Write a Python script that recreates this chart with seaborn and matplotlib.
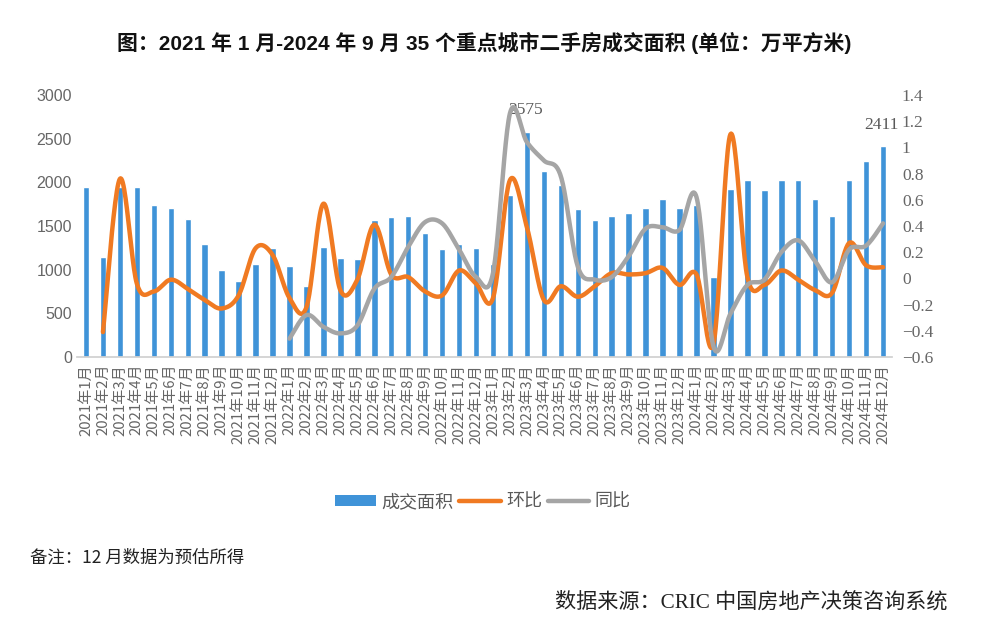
import numpy as np
import pandas as pd
import matplotlib
matplotlib.use("Agg")
import matplotlib.pyplot as plt
import seaborn as sns
from matplotlib.patches import Patch
from matplotlib.lines import Line2D
from matplotlib.ticker import FuncFormatter, FixedLocator

sns.set_theme(style="white")
plt.rcParams['font.family'] = ['Noto Sans CJK SC', 'DejaVu Sans']
plt.rcParams['axes.unicode_minus'] = True

# ---------------- data ----------------
months = [f"{y}年{m}月" for y in (2021, 2022, 2023, 2024) for m in range(1, 13)]

area = [1950, 1150, 1950, 1950, 1740, 1705, 1575, 1295, 1000, 874, 1065, 1245,
        1038, 808, 1260, 1130, 1119, 1563, 1601, 1609, 1421, 1238, 1299, 1245,
        1065, 1858, 2575, 2134, 1973, 1697, 1563, 1609, 1651, 1705, 1812, 1709,
        1736, 912, 1927, 2023, 1916, 2023, 2023, 1812, 1609, 2031, 2241, 2411]

mom = [None, -0.41, 0.76, -0.04, -0.10, -0.01, -0.08, -0.165, -0.23, -0.13, 0.23, 0.18,
       -0.15, -0.22, 0.57, -0.09, -0.01, 0.41, 0.03, 0.01, -0.10, -0.13, 0.06, -0.04,
       -0.15, 0.75, 0.39, -0.165, -0.06, -0.14, -0.06, 0.04, 0.03, 0.04, 0.08, -0.05,
       0.03, -0.50, 1.10, 0.01, -0.05, 0.06, -0.01, -0.09, -0.11, 0.27, 0.10, 0.085]

yoy = [None] * 12 + [-0.46, -0.28, -0.37, -0.42, -0.36, -0.08, 0.01, 0.24, 0.43, 0.42, 0.22, 0.01,
                     0.04, 1.26, 1.04, 0.90, 0.78, 0.09, -0.01, 0.01, 0.17, 0.38, 0.39, 0.37,
                     0.62, -0.52, -0.27, -0.05, -0.01, 0.20, 0.29, 0.13, -0.03, 0.22, 0.25, 0.42]

labeled = {"2023年3月": 2575, "2024年12月": 2411}

left_ticks = [0, 500, 1000, 1500, 2000, 2500, 3000]
right_ticks = [-0.6, -0.4, -0.2, 0, 0.2, 0.4, 0.6, 0.8, 1.0, 1.2, 1.4]

BLUE = "#3f93d8"
ORANGE = "#f07a22"
GRAY = "#a5a5a5"
TICKC = "#666666"


def smooth(vals, n=24):
    """Excel-like smoothed line (Catmull-Rom Bezier) through the given points."""
    pts = [(i, v) for i, v in enumerate(vals) if v is not None]
    P = np.array(pts, dtype=float)
    xs, ys = [], []
    for k in range(len(P) - 1):
        p0 = P[k - 1] if k > 0 else P[k]
        p1 = P[k]
        p2 = P[k + 1]
        p3 = P[k + 2] if k + 2 < len(P) else P[k + 1]
        b1 = p1 + (p2 - p0) / 6.0
        b2 = p2 - (p3 - p1) / 6.0
        t = np.linspace(0, 1, n, endpoint=(k == len(P) - 2))[:, None]
        c = ((1 - t) ** 3) * p1 + 3 * ((1 - t) ** 2) * t * b1 + 3 * (1 - t) * t ** 2 * b2 + t ** 3 * p2
        xs.extend(c[:, 0]); ys.extend(c[:, 1])
    return pd.DataFrame({"x": xs, "y": ys})


df = pd.DataFrame({"month": months, "area": area})

fig = plt.figure(figsize=(9.81, 6.37), dpi=100)
ax = fig.add_axes([0.079, 0.4396, 0.8298, 0.4113])

sns.barplot(data=df, x="month", y="area", color=BLUE, saturation=1, width=0.38, ax=ax)
ax.set_xlim(-0.5, len(months) - 0.5)
ax.set_ylim(0, 3000)
ax.set_yticks(left_ticks)
ax.set_yticklabels([str(t) for t in left_ticks], family=['Liberation Sans'], fontsize=11.5, color=TICKC)
ax.set_xlabel(""); ax.set_ylabel("")
ax.set_xticks(range(len(months)))
ax.set_xticklabels(months, rotation=90, fontsize=10.8, color=TICKC,
                   family=['Noto Sans CJK SC'])
ax.xaxis.set_minor_locator(FixedLocator(np.arange(-0.5, len(months), 1.0)))
ax.tick_params(axis='x', which='major', length=0, pad=5)
ax.tick_params(axis='x', which='minor', length=5, color="#d0d0d0", width=0.8, direction='out')
ax.tick_params(axis='y', length=0, pad=4)
for s in ["top", "right", "left"]:
    ax.spines[s].set_visible(False)
ax.spines["bottom"].set_color("#d0d0d0")
ax.grid(False)

for m, v in labeled.items():
    i = months.index(m)
    ax.annotate(str(v), xy=(i, v), xytext=(-1, 10), textcoords="offset points",
                ha="center", va="bottom", fontsize=12.5, color="#595959",
                family=['Liberation Serif'])

ax2 = ax.twinx()
ax2.set_position(ax.get_position())
sns.lineplot(data=smooth(mom), x="x", y="y", sort=False, color=ORANGE, lw=3.2, ax=ax2)
sns.lineplot(data=smooth(yoy), x="x", y="y", sort=False, color=GRAY, lw=3.2, ax=ax2)
ax2.set_ylim(-0.6, 1.4)
ax2.set_yticks(right_ticks)
ax2.yaxis.set_major_formatter(FuncFormatter(lambda v, p: ("%g" % round(v, 1)).replace("-", "\u2212")))
for t in ax2.get_yticklabels():
    t.set_family(['Liberation Serif'])
ax2.tick_params(axis='y', length=0, pad=7.5, labelsize=12.5, labelcolor=TICKC)
ax2.set_xlabel(""); ax2.set_ylabel("")
for s in ["top", "right", "left", "bottom"]:
    ax2.spines[s].set_visible(False)
ax2.grid(False)
ax2.set_xlim(-0.5, len(months) - 0.5)

handles = [Patch(facecolor=BLUE, edgecolor='none'),
           Line2D([0], [0], color=ORANGE, lw=3.2),
           Line2D([0], [0], color=GRAY, lw=3.2)]
fig.legend(handles, ["成交面积", "环比", "同比"], loc="center", bbox_to_anchor=(0.492, 0.212),
           ncol=3, frameon=False, fontsize=13, handlelength=2.3, handleheight=0.55,
           handletextpad=0.3, columnspacing=0.3, labelcolor="#595959")

fig.text(0.4935, 0.932, "图：2021 年 1 月-2024 年 9 月 35 个重点城市二手房成交面积 (单位：万平方米)",
         ha="center", va="center", fontsize=15, fontweight="bold",
         family=['Liberation Sans', 'Noto Sans CJK SC'], color="#111111")
fig.text(0.031, 0.125, "备注：12 月数据为预估所得", ha="left", va="center", fontsize=12.5,
         family=['Noto Sans CJK SC'], color="#222222")
fig.text(0.966, 0.055, "数据来源：CRIC 中国房地产决策咨询系统", ha="right", va="center", fontsize=15.2,
         family=['Liberation Serif', 'Noto Sans CJK SC'], color="#222222")

fig.savefig("out.png", dpi=100, facecolor="white")
